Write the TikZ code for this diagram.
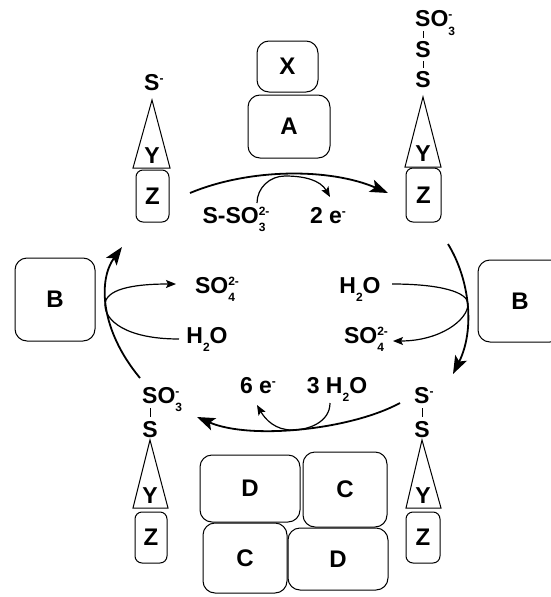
\documentclass[tikz,border=0pt]{standalone}
\usepackage{fontspec}
\setmainfont{Liberation Sans}
\usetikzlibrary{arrows.meta,calc}

% stacked sub- and superscript after a symbol
\newcommand{\chemscr}[2]{%
  \setbox0=\hbox{\fontsize{12}{12}\selectfont #1}%
  \setbox2=\hbox{\fontsize{12}{12}\selectfont #2}%
  \ifdim\wd0>\wd2 \dimen0=\wd0 \else \dimen0=\wd2 \fi
  \hbox to \dimen0{\rlap{\raise-8.5pt\box0}\raise8pt\box2\hss}}

\begin{document}
\begin{tikzpicture}[
    x=1pt, y=-1pt,
    box/.style={rectangle, draw, rounded corners=12pt, line width=1pt, inner sep=0pt, font=\fontsize{24}{28}\selectfont\bfseries},
    zbox/.style={box, rounded corners=7pt, minimum width=33pt, minimum height=52pt},
    lbl/.style={font=\fontsize{23}{27}\selectfont\bfseries, inner sep=0pt, anchor=base},
    atom/.style={lbl, anchor=base west},
    tri/.style={draw, line width=1pt, line join=miter},
    bond/.style={line width=1pt},
    big/.style={-{Stealth[length=18pt, width=13pt, inset=4pt]}, line width=1.8pt},
    small/.style={-{Stealth[length=10pt, width=8pt, inset=2pt]}, line width=1.2pt}
]
\useasboundingbox (0,0) rectangle (551,597);

% Enzyme boxes
\node[box, minimum width=61pt, minimum height=51pt] (X) at (287.5,66.5) {X};
\node[box, minimum width=82pt, minimum height=63pt] (A) at (289,126.5) {A};
\node[box, minimum width=80pt, minimum height=83pt] (BL) at (55,299.5) {B};
\node[box, minimum width=84pt, minimum height=82pt] (BR) at (520,301) {B};
\node[box, minimum width=100pt, minimum height=67pt] (D1) at (250,488.5) {D};
\node[box, minimum width=84pt, minimum height=75pt] (C1) at (345,489.5) {C};
\node[box, minimum width=84pt, minimum height=70pt] (C2) at (245,558) {C};
\node[box, minimum width=100pt, minimum height=62pt] (D2) at (338,559) {D};

% Top left: Z-Y-S-
\node[zbox] (zTL) at (152.5,196) {Z};
\draw[tri] (152,100) -- (170,168) -- (133,168) -- cycle;
\node[lbl] (yTL) at (152,163) {Y};
\node[atom] (sTL) at (144,90) {S\chemscr{}{-}};

% Top right: Z-Y-S-S-SO3-
\node[zbox, minimum width=35pt, minimum height=54pt] (zTR) at (423.5,195) {Z};
\draw[tri] (423,97) -- (441,167) -- (405,167) -- cycle;
\node[lbl] (yTR) at (423,161) {Y};
\node[atom] (soTR) at (415,27) {SO\chemscr{3}{-}};
\node[lbl] (s1TR) at (423,57) {S};
\node[lbl] (s2TR) at (423,87) {S};
\draw[bond] (s1TR.north) ++(0,-3) -- ++(0,-7);
\draw[bond] (s2TR.north) ++(0,-3) -- ++(0,-7);

% Bottom left: Z-Y-S-SO3-
\node[zbox, minimum width=32pt, minimum height=51pt] (zBL) at (151,537.5) {Z};
\draw[tri] (150,440) -- (168,508) -- (133,508) -- cycle;
\node[lbl] (yBL) at (150,503) {Y};
\node[atom] (soBL) at (142,403) {SO\chemscr{3}{-}};
\node[lbl] (sBL) at (150,437) {S};
\draw[bond] (sBL.north) ++(0,-4) -- ++(0,-9);

% Bottom right: Z-Y-S-S-
\node[zbox, minimum width=34pt, minimum height=51pt] (zBR) at (423,537.5) {Z};
\draw[tri] (422,440) -- (441,508) -- (406,508) -- cycle;
\node[lbl] (yBR) at (423,503) {Y};
\node[atom] (s1BR) at (414,403) {S\chemscr{}{-}};
\node[lbl] (s2BR) at (422,437) {S};
\draw[bond] (s2BR.north) ++(0,-4) -- ++(0,-9);

% Labels
\node[lbl] (thio) at (236,223) {S-SO\chemscr{3}{2-}};
\node[lbl] (eTop) at (328,223) {2 e\chemscr{}{-}};
\node[lbl] (so4L) at (217,293) {SO\chemscr{4}{2-}};
\node[lbl] (h2oL) at (207,343) {H\chemscr{2}{}O};
\node[lbl] (h2oR) at (360,293) {H\chemscr{2}{}O};
\node[lbl] (so4R) at (366,343) {SO\chemscr{4}{2-}};
\node[lbl] (eBot) at (258,393) {6 e\chemscr{}{-}};
\node[lbl] (h2oB) at (337,393) {3 H\chemscr{2}{}O};

% Arrow ends
\coordinate (topS) at (190,193);
\coordinate (topE) at (388,193);
\coordinate (rgtS) at (448,244);
\coordinate (rgtE) at (453,374);
\coordinate (botS) at (400,403);
\coordinate (botE) at (197,417);
\coordinate (lftS) at (140,378);
\coordinate (lftE) at (122,247);

% Main cycle
\draw[big] (topS) .. controls (250,168) and (330,168) .. (topE);
\draw[big] (rgtS) .. controls (470,280) and (475,330) .. (rgtE);
\draw[big] (botS) .. controls (350,430) and (250,440) .. (botE);
\draw[big] (lftS) .. controls (100,330) and (98,280) .. (lftE);

% Side reactions
\draw[small] (257,203) to[out=90,in=180] (285,176) to[out=0,in=120] (330,197);
\draw[small] (179,339) .. controls (125,339) and (105,320) .. (105,305) .. controls (105,290) and (130,284) .. (176,284);
\draw[small] (392,284) .. controls (440,284) and (468,292) .. (468,304) .. controls (468,320) and (440,341) .. (393,341);
\draw[small] (330,403) to[out=270,in=0] (292,430) to[out=180,in=300] (257,405);

\end{tikzpicture}
\end{document}
